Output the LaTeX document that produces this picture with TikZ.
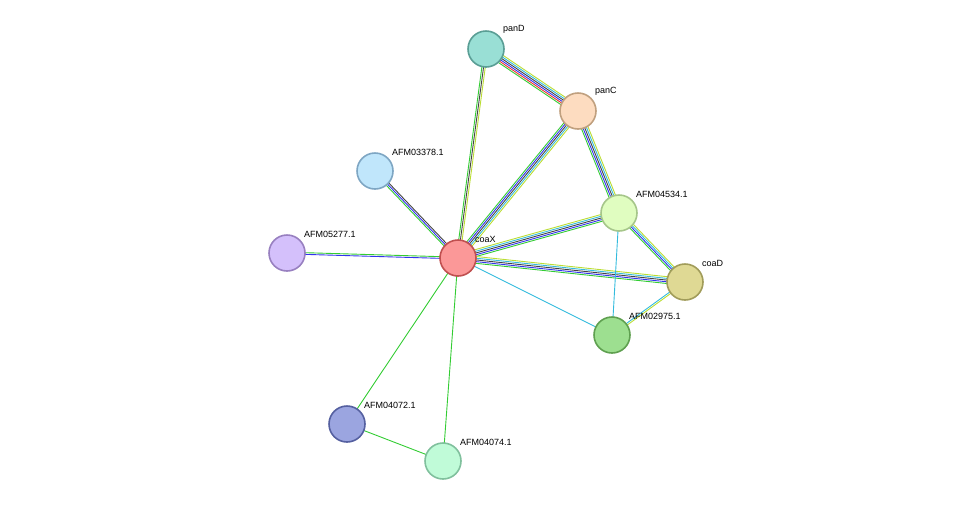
\documentclass[tikz,border=0pt]{standalone}
\usepackage{fontspec}
\setmainfont{Liberation Sans}
\usetikzlibrary{calc}
\definecolor{eg}{HTML}{33CC33}
\definecolor{eb}{HTML}{3333EE}
\definecolor{ek}{HTML}{444444}
\definecolor{ec}{HTML}{33BBDD}
\definecolor{ey}{HTML}{BBDD33}
\definecolor{er}{HTML}{EE3333}
\tikzset{
  prot/.style={circle, draw, line width=1.6pt, minimum size=36pt, inner sep=0pt},
  plabel/.style={font=\fontsize{9}{10}\selectfont, anchor=south west, inner sep=1pt}
}
% #1,#2 nodes, #3 number of lines, #4 colours
\newcommand\linkedge[4]{%
  \foreach \c [count=\i] in {#4}{%
    \pgfmathsetmacro\off{(\i-(#3+1)/2)*1.7}
    \draw[\c, line width=0.9pt] ($(#1)!\off pt!90:(#2)$) -- ($(#2)!\off pt!-90:(#1)$);
  }}
\begin{document}
\begin{tikzpicture}[x=1pt, y=-1pt]
\useasboundingbox (0,0) rectangle (976,507);

\coordinate (panD) at (486,49);
\coordinate (panC) at (578,111);
\coordinate (A3378) at (375,171);
\coordinate (A4534) at (619,213);
\coordinate (A5277) at (287,253);
\coordinate (coaX) at (458,258);
\coordinate (coaD) at (685,282);
\coordinate (A2975) at (612,335);
\coordinate (A4072) at (347,424);
\coordinate (A4074) at (443,461);

\linkedge{panD}{panC}{6}{eg,er,eb,ek,ec,ey}
\linkedge{panD}{coaX}{3}{eg,ek,ey}
\linkedge{panC}{coaX}{5}{eg,eb,ek,ec,ey}
\linkedge{panC}{A4534}{5}{eg,eb,ek,ec,ey}
\linkedge{coaX}{A4534}{5}{eg,eb,ek,ec,ey}
\linkedge{coaX}{coaD}{5}{eg,eb,ek,ec,ey}
\linkedge{A4534}{coaD}{4}{eg,eb,ec,ey}
\linkedge{A3378}{coaX}{3}{eg,eb,ek}
\linkedge{A5277}{coaX}{2}{eb,eg}
\linkedge{coaD}{A2975}{2}{ec,ey}
\draw[ec, line width=0.9pt] (A4534) -- (A2975);
\draw[ec, line width=0.9pt] (coaX) -- (A2975);
\draw[eg, line width=0.9pt] (coaX) -- (A4072);
\draw[eg, line width=0.9pt] (coaX) -- (A4074);
\draw[eg, line width=0.9pt] (A4072) -- (A4074);

\node[prot, fill={rgb,255:red,153;green,223;blue,213}, draw={rgb,255:red,90;green,158;blue,149}] (npanD) at (panD) {};
\node[prot, fill={rgb,255:red,253;green,220;blue,192}, draw={rgb,255:red,192;green,160;blue,127}] (npanC) at (panC) {};
\node[prot, fill={rgb,255:red,192;green,230;blue,251}, draw={rgb,255:red,126;green,166;blue,195}] (nA3378) at (A3378) {};
\node[prot, fill={rgb,255:red,224;green,253;blue,192}, draw={rgb,255:red,166;green,198;blue,138}] (nA4534) at (A4534) {};
\node[prot, fill={rgb,255:red,212;green,192;blue,251}, draw={rgb,255:red,152;green,128;blue,192}] (nA5277) at (A5277) {};
\node[prot, fill={rgb,255:red,251;green,152;blue,152}, draw={rgb,255:red,192;green,80;blue,80}] (ncoaX) at (coaX) {};
\node[prot, fill={rgb,255:red,223;green,217;blue,148}, draw={rgb,255:red,161;green,156;blue,90}] (ncoaD) at (coaD) {};
\node[prot, fill={rgb,255:red,157;green,223;blue,144}, draw={rgb,255:red,95;green,160;blue,80}] (nA2975) at (A2975) {};
\node[prot, fill={rgb,255:red,155;green,165;blue,224}, draw={rgb,255:red,85;green,96;blue,160}] (nA4072) at (A4072) {};
\node[prot, fill={rgb,255:red,192;green,251;blue,216}, draw={rgb,255:red,128;green,192;blue,157}] (nA4074) at (A4074) {};

\node[plabel] at (502,35) {panD};
\node[plabel] at (594,97) {panC};
\node[plabel] at (391,157) {AFM03378.1};
\node[plabel] at (635,199) {AFM04534.1};
\node[plabel] at (303,239) {AFM05277.1};
\node[plabel] at (474,244) {coaX};
\node[plabel] at (701,268) {coaD};
\node[plabel] at (628,321) {AFM02975.1};
\node[plabel] at (363,410) {AFM04072.1};
\node[plabel] at (459,447) {AFM04074.1};
\end{tikzpicture}
\end{document}
